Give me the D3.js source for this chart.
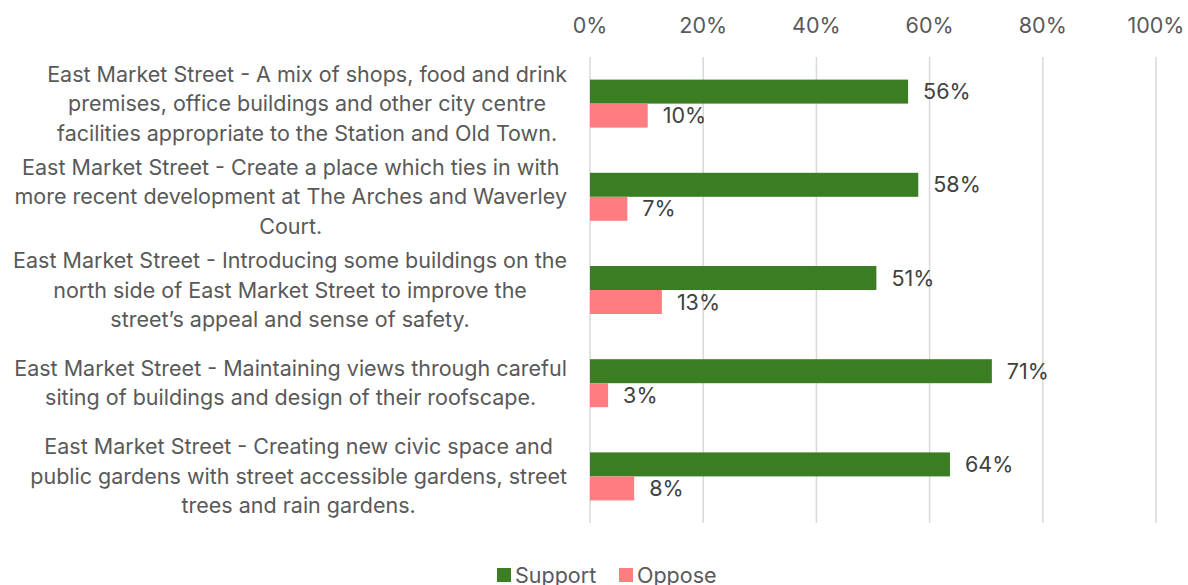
<!DOCTYPE html>
<html>
<head>
<meta charset="utf-8">
<script src="https://cdn.jsdelivr.net/npm/d3@7"></script>
<style>
  body { margin: 0; background: #fff; }
  svg { display: block; font-family: Inter, "Open Sans", sans-serif; }
</style>
</head>
<body>
<svg width="1188" height="585"></svg>
<script>
// Data
var categories = [
  ['East Market Street - A mix of shops, food and drink', 'premises, office buildings and other city centre', 'facilities appropriate to the Station and Old Town.'],
  ['East Market Street - Create a place which ties in with', 'more recent development at The Arches and Waverley', 'Court.'],
  ['East Market Street - Introducing some buildings on the', 'north side of East Market Street to improve the', 'street\u2019s appeal and sense of safety.'],
  ['East Market Street - Maintaining views through careful', 'siting of buildings and design of their roofscape.'],
  ['East Market Street - Creating new civic space and', 'public gardens with street accessible gardens, street', 'trees and rain gardens.']
]
var support = [0.562, 0.58, 0.506, 0.71, 0.636]
var oppose = [0.102, 0.066, 0.127, 0.032, 0.078]
var seriesNames = ['Support', 'Oppose']
var seriesColors = ['#3b7d23', '#ff7c80']
var ticks = [0, 0.2, 0.4, 0.6, 0.8, 1]

var svg = d3.select('svg')
var plotLeft = 590, plotRight = 1156, plotTop = 57, plotBottom = 523
var fontSize = '21.5px'

var x = d3.scaleLinear().domain([0, 1]).range([plotLeft, plotRight])
var y = d3.scaleBand().domain(d3.range(categories.length)).range([plotTop, plotBottom]).paddingInner(0.485).paddingOuter(0.2425)
var fmt = d3.format('.0%')

// gridlines
svg.append('g')
  .selectAll('line')
  .data(ticks)
  .enter()
  .append('line')
  .attr('x1', d => x(d)).attr('x2', d => x(d))
  .attr('y1', plotTop).attr('y2', plotBottom)
  .attr('stroke', '#d9d9d9')
  .attr('stroke-width', 1.5)

// top axis labels
svg.append('g')
  .selectAll('text')
  .data(ticks)
  .enter()
  .append('text')
  .attr('x', d => x(d))
  .attr('y', 25)
  .attr('dy', '0.35em')
  .attr('text-anchor', 'middle')
  .attr('fill', '#595959')
  .style('font-size', fontSize)
  .text(d => fmt(d))

// bars
var bh = y.bandwidth() / 2
var series = [support, oppose]
series.forEach(function(vals, si) {
  var g = svg.append('g')
  g.selectAll('rect')
    .data(vals)
    .enter()
    .append('rect')
    .attr('x', x(0))
    .attr('y', (d, i) => y(i) + si * bh)
    .attr('width', d => x(d) - x(0))
    .attr('height', bh)
    .attr('fill', seriesColors[si])
  g.selectAll('text')
    .data(vals)
    .enter()
    .append('text')
    .attr('x', d => x(d) + 15)
    .attr('y', (d, i) => y(i) + si * bh + bh / 2)
    .attr('dy', '0.35em')
    .attr('fill', '#404040')
    .style('font-size', fontSize)
    .text(d => fmt(d))
})

// category labels: centred block, right edge at 567
var lineH = 29.5
categories.forEach(function(lines, i) {
  var cy = y(i) + y.bandwidth() / 2
  var g = svg.append('g')
  var texts = g.selectAll('text')
    .data(lines)
    .enter()
    .append('text')
    .attr('y', (d, j) => cy + (j - (lines.length - 1) / 2) * lineH)
    .attr('dy', '0.35em')
    .attr('text-anchor', 'middle')
    .attr('fill', '#595959')
    .style('font-size', fontSize)
    .text(d => d)
  var w = d3.max(texts.nodes(), n => n.getComputedTextLength())
  texts.attr('x', 567 - w / 2)
})

// legend
var leg = svg.append('g')
var lx = [497, 619]
seriesNames.forEach(function(name, i) {
  leg.append('rect')
    .attr('x', lx[i]).attr('y', 568)
    .attr('width', 14).attr('height', 14)
    .attr('fill', seriesColors[i])
  leg.append('text')
    .attr('x', lx[i] + 18).attr('y', 575)
    .attr('dy', '0.35em')
    .attr('fill', '#595959')
    .style('font-size', fontSize)
    .text(name)
})
</script>
</body>
</html>
